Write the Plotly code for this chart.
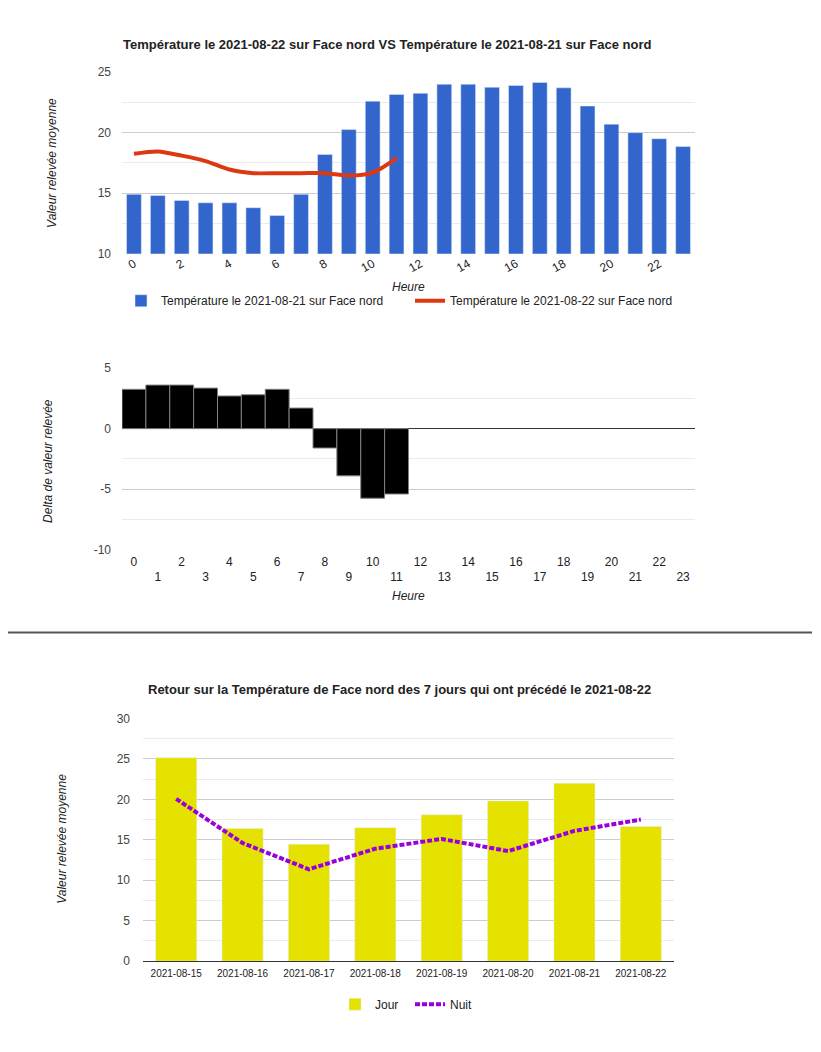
import plotly.graph_objects as go

# ---------------- data ----------------
hours = list(range(24))
temp_0821 = [14.9, 14.8, 14.4, 14.2, 14.2, 13.8, 13.15, 14.9, 18.2, 20.25, 22.6, 23.15,
             23.25, 24.0, 24.0, 23.75, 23.9, 24.15, 23.7, 22.2, 20.7, 20.0, 19.5, 18.85]
hours_0822 = list(range(12))
temp_0822 = [18.25, 18.45, 18.1, 17.65, 16.95, 16.65, 16.65, 16.65, 16.65, 16.45, 16.7, 17.9]
delta = [3.25, 3.6, 3.6, 3.35, 2.7, 2.8, 3.25, 1.7, -1.6, -3.9, -5.75, -5.4]
delta_ticks = [-10, -5, 0, 5]
delta_tick_labels = ["-10", "-5", "0", "5"]

days = ["2021-08-15", "2021-08-16", "2021-08-17", "2021-08-18",
        "2021-08-19", "2021-08-20", "2021-08-21", "2021-08-22"]
jour = [25.15, 16.4, 14.45, 16.5, 18.1, 19.8, 22.0, 16.65]
nuit = [20.05, 14.6, 11.35, 13.9, 15.1, 13.6, 16.1, 17.5]

name_bar = "Température le 2021-08-21 sur Face nord"
name_line = "Température le 2021-08-22 sur Face nord"
title1 = "Température le 2021-08-22 sur Face nord VS Température le 2021-08-21 sur Face nord"
title3 = "Retour sur la Température de Face nord des 7 jours qui ont précédé le 2021-08-22"

# ---------------- layout helpers ----------------
W, H = 821, 1052
def px_x(a, b):
    return [a / W, b / W]
def px_y(top, bottom):
    return [1 - bottom / H, 1 - top / H]

FONT = "Liberation Sans, Arial, sans-serif"
GRID = "#cccccc"
MINOR = "#ebebeb"
TXT = "#222222"

fig = go.Figure()

# chart 1
fig.add_trace(go.Bar(x=hours, y=temp_0821, name=name_bar, marker_color="#3366cc",
                     xaxis="x", yaxis="y", legend="legend"))
fig.add_trace(go.Scatter(x=hours_0822, y=temp_0822, name=name_line, mode="lines",
                         line=dict(color="#dc3912", width=4, shape="spline", smoothing=0.8),
                         xaxis="x", yaxis="y", legend="legend"))
# chart 2
fig.add_trace(go.Bar(x=hours_0822, y=delta, name="Delta", showlegend=False, width=1,
                     marker=dict(color="#000000", line=dict(color="#808080", width=1)),
                     xaxis="x2", yaxis="y2"))
# chart 3
fig.add_trace(go.Bar(x=days, y=jour, name="Jour", marker_color="#e6e200",
                     xaxis="x3", yaxis="y3", legend="legend2"))
fig.add_trace(go.Scatter(x=days, y=nuit, name="Nuit", mode="lines",
                         line=dict(color="#9900dd", width=4, dash="5px,2px"),
                         xaxis="x3", yaxis="y3", legend="legend2"))

odd_even_text = [str(h) if h % 2 == 0 else "<br>" + str(h) for h in hours]

yfont = dict(size=12, color="#444444")
fig.update_layout(
    width=W, height=H,
    margin=dict(l=0, r=0, t=0, b=0),
    paper_bgcolor="white", plot_bgcolor="white",
    font=dict(family=FONT, size=12, color=TXT),
    bargap=0.38,
    barmode="overlay",
    xaxis=dict(domain=px_x(122, 695), range=[-0.5, 23.5], tickvals=list(range(0, 24, 2)),
               tickangle=-30, showgrid=False, zeroline=False, showline=False,
               ticks="", tickfont=dict(size=12, color=TXT), anchor="y"),
    yaxis=dict(domain=px_y(66, 250), range=[10, 25], dtick=5, gridcolor=GRID,
               zeroline=False, showline=False, ticks="", tickfont=yfont,
               ticklabelstandoff=10,
               minor=dict(dtick=2.5, showgrid=True, gridcolor=MINOR), anchor="x"),
    xaxis2=dict(domain=px_x(122, 695), range=[-0.5, 23.5], tickvals=hours,
                ticktext=odd_even_text, showgrid=False, zeroline=False, showline=False,
                ticks="", tickfont=dict(size=12, color=TXT), ticklabelstandoff=3,
                anchor="y2"),
    yaxis2=dict(domain=px_y(366, 550), range=[-10, 5], tickvals=delta_ticks,
                ticktext=delta_tick_labels, gridcolor=GRID,
                zeroline=True, zerolinecolor="#333333", zerolinewidth=1,
                showline=False, ticks="", tickfont=yfont, ticklabelstandoff=10,
                minor=dict(dtick=2.5, showgrid=True, gridcolor=MINOR), anchor="x2"),
    xaxis3=dict(domain=px_x(143, 674), type="category", showgrid=False, zeroline=False,
                showline=True, linecolor="#333333", linewidth=1,
                ticks="", tickfont=dict(size=10, color=TXT), ticklabelstandoff=3,
                anchor="y3"),
    yaxis3=dict(domain=px_y(721, 967), range=[0, 30], dtick=5, gridcolor=GRID,
                zeroline=False, showline=False, ticks="", tickfont=yfont,
                ticklabelstandoff=12,
                minor=dict(dtick=2.5, showgrid=True, gridcolor=MINOR), anchor="x3"),
    legend=dict(orientation="h", x=121 / W, y=1 - 283 / H, xanchor="left", yanchor="top",
                font=dict(size=12, color=TXT), bgcolor="rgba(0,0,0,0)", itemwidth=30,
                entrywidth=244, tracegroupgap=0),
    legend2=dict(orientation="h", x=335 / W, y=1 - 996 / H, xanchor="left", yanchor="top",
                 font=dict(size=12, color=TXT), bgcolor="rgba(0,0,0,0)", itemwidth=30,
                 entrywidth=30),
)

def ann(text, x, y, size=12, bold=False, italic=False, angle=0, xanchor="center"):
    t = text
    if italic:
        t = "<i>" + t + "</i>"
    if bold:
        t = "<b>" + t + "</b>"
    fig.add_annotation(text=t, x=x / W, y=1 - y / H, xref="paper", yref="paper",
                       showarrow=False, textangle=angle, xanchor=xanchor, yanchor="middle",
                       font=dict(size=size, color=TXT, family=FONT))

ann(title1, 121, 38, size=13, bold=True, xanchor="left")
ann("Heure", 408, 284, italic=True)
ann("Valeur relevée moyenne", 52, 158, italic=True, angle=-90)
ann("Heure", 408, 597, italic=True)
ann("Delta de valeur relevée", 48, 460, italic=True, angle=-90)
ann(title3, 399, 692, size=13, bold=True)
ann("Valeur relevée moyenne", 62, 843, italic=True, angle=-90)

fig.add_shape(type="line", xref="paper", yref="paper", x0=8 / W, x1=812 / W,
              y0=1 - 634 / H, y1=1 - 634 / H, line=dict(color="#555555", width=2))

fig.write_html("out.html", config={"displayModeBar": False},
               post_script="document.body.style.margin='0px';document.body.style.overflow='hidden';")
